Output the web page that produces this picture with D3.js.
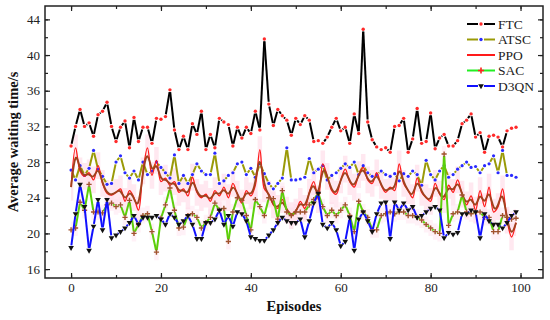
<!DOCTYPE html>
<html>
<head>
<meta charset="utf-8">
<script src="https://cdn.jsdelivr.net/npm/d3@7"></script>
<style>
  html, body { margin: 0; padding: 0; background: #fff; }
  svg { display: block; }
  text { font-family: "Liberation Serif", "Times New Roman", serif; }
</style>
</head>
<body>
<svg id="chart" width="550" height="320"></svg>
<script>
// ---------------- DATA ----------------
const episodes = d3.range(0, 100);

const FTC = [29.8, 32.0, 33.9, 32.0, 32.4, 30.9, 33.3, 33.7, 34.7, 32.0,
  30.3, 31.9, 32.6, 29.6, 33.0, 30.3, 31.9, 31.9, 30.1, 32.9,
  32.8, 33.1, 36.1, 31.6, 29.4, 30.9, 29.4, 32.3, 31.1, 33.7,
  29.4, 31.1, 29.6, 32.9, 32.5, 32.2, 29.8, 31.9, 30.7, 31.9,
  31.2, 33.7, 31.6, 41.8, 34.5, 32.1, 33.9, 33.2, 32.7, 31.0,
  32.9, 32.2, 33.2, 32.7, 30.3, 30.4, 30.1, 30.8, 31.9, 32.9,
  31.5, 31.9, 30.1, 33.4, 31.2, 42.9, 32.5, 30.5, 29.7, 29.4,
  29.6, 29.1, 32.0, 32.1, 32.9, 29.1, 30.6, 34.0, 30.1, 30.3,
  33.5, 29.5, 30.7, 31.1, 29.8, 29.8, 30.4, 32.3, 32.7, 33.4,
  30.8, 31.3, 29.1, 30.9, 31.0, 30.8, 29.7, 31.5, 31.8, 31.9];

const ATSC = [27.1, 26.0, 27.6, 26.5, 27.3, 29.3, 27.2, 26.4, 25.5, 25.6,
  28.0, 28.7, 26.8, 26.2, 27.0, 26.0, 28.0, 26.6, 27.0, 28.0,
  27.4, 26.8, 26.2, 28.8, 25.6, 26.5, 25.6, 26.6, 27.8, 27.0,
  26.6, 26.6, 29.0, 25.6, 25.9, 26.5, 26.8, 27.8, 28.0, 26.6,
  27.3, 26.3, 27.8, 26.7, 25.6, 25.0, 25.6, 26.2, 29.6, 26.0,
  26.0, 26.1, 26.3, 28.4, 26.8, 27.2, 27.6, 26.0, 26.5, 26.8,
  27.3, 27.8, 27.4, 28.0, 26.6, 27.6, 26.8, 26.4, 26.6, 27.0,
  26.6, 26.4, 26.7, 25.9, 26.7, 26.4, 27.0, 26.6, 25.4, 28.2,
  26.6, 26.0, 27.0, 27.6, 26.3, 26.6, 27.2, 27.6, 28.0, 27.4,
  27.5, 26.8, 27.6, 27.8, 28.7, 26.8, 29.3, 26.5, 26.5, 26.3];

const PPO = [25.2, 29.6, 27.0, 26.4, 26.8, 26.0, 27.6, 25.6, 24.5, 24.3,
  24.6, 25.0, 23.6, 24.8, 24.0, 22.6, 27.0, 29.6, 26.5, 28.2,
  25.8, 26.2, 25.4, 25.8, 24.6, 25.0, 24.2, 26.3, 24.6, 24.0,
  24.4, 23.6, 24.8, 24.2, 25.2, 24.0, 25.6, 24.4, 23.4, 24.8,
  24.2, 25.4, 29.4, 25.0, 24.4, 23.2, 22.8, 23.8, 22.6, 22.0,
  22.4, 23.6, 22.8, 24.6, 25.8, 23.8, 27.8, 26.4, 24.8, 24.4,
  26.0, 27.2, 25.8, 25.2, 26.6, 27.4, 26.0, 25.6, 26.8, 25.4,
  24.6, 25.2, 24.8, 27.8, 25.6, 24.8, 24.0, 26.2, 24.6, 24.0,
  23.6, 25.6, 24.4, 23.8, 25.4, 24.6, 26.0, 24.4, 23.2, 24.2,
  22.6, 24.8, 23.0, 25.2, 22.4, 23.0, 25.0, 21.5, 19.6, 21.2];

const SAC = [20.4, 20.6, 23.5, 22.6, 25.5, 22.4, 22.4, 22.3, 23.2, 23.4,
  23.0, 23.2, 21.8, 23.7, 20.0, 21.0, 22.0, 22.2, 20.2, 17.9,
  21.7, 23.2, 25.1, 22.6, 20.6, 20.7, 22.0, 22.2, 21.8, 20.6,
  21.2, 21.8, 23.4, 22.6, 22.8, 19.1, 22.4, 24.0, 23.7, 22.0,
  20.4, 23.8, 23.0, 22.0, 24.0, 23.9, 21.6, 24.8, 22.4, 22.0,
  22.4, 22.4, 22.4, 23.2, 23.8, 24.5, 23.0, 22.0, 22.6, 22.0,
  22.6, 23.2, 22.0, 20.2, 23.6, 22.4, 21.8, 20.4, 20.4, 22.0,
  22.2, 22.4, 22.2, 22.4, 22.4, 22.0, 22.0, 21.8, 21.5, 21.0,
  20.6, 20.2, 20.0, 28.9, 20.9, 22.2, 22.4, 24.3, 22.4, 22.2,
  22.4, 22.4, 21.8, 21.8, 20.2, 20.2, 22.0, 21.8, 21.6, 21.7];

const D3QN = [18.4, 22.2, 25.5, 23.0, 18.1, 20.8, 23.8, 20.4, 23.8, 19.5,
  19.8, 20.2, 20.6, 21.2, 22.0, 21.0, 21.8, 21.8, 21.8, 22.0,
  21.6, 21.0, 22.2, 21.8, 21.0, 21.4, 22.0, 21.0, 19.4, 19.4,
  21.2, 21.2, 21.6, 22.6, 21.0, 22.0, 20.8, 22.4, 22.2, 21.4,
  19.6, 19.4, 19.2, 19.2, 19.8, 20.4, 21.2, 21.8, 21.4, 21.2,
  21.2, 21.6, 19.6, 21.4, 23.4, 24.5, 21.0, 20.6, 21.2, 20.4,
  18.6, 19.1, 21.8, 18.1, 21.6, 22.4, 21.4, 20.2, 22.2, 23.4,
  23.5, 19.4, 23.5, 22.6, 23.4, 22.6, 23.0, 21.8, 22.0, 22.4,
  22.8, 23.0, 22.6, 19.5, 20.1, 19.9, 20.1, 22.2, 22.2, 22.6,
  22.4, 19.5, 22.2, 21.4, 21.0, 21.0, 20.6, 21.2, 22.0, 22.4];

const yTicks = [16, 20, 24, 28, 32, 36, 40, 44];
const xTicks = [0, 20, 40, 60, 80, 100];
const seriesNames = ["FTC", "ATSC", "PPO", "SAC", "D3QN"];

// ---------------- LAYOUT ----------------
const svg = d3.select("#chart");
const L = 45, R = 543, T = 6, B = 278;
const x = d3.scaleLinear().domain([-5.8, 105]).range([L, R]);
const y = d3.scaleLinear().domain([15, 45.5]).range([B, T]);

const plot = svg.append("g");
const clipId = "clip";
svg.append("defs").append("clipPath").attr("id", clipId)
  .append("rect").attr("x", L).attr("y", T).attr("width", R - L).attr("height", B - T);
const g = plot.append("g").attr("clip-path", `url(#${clipId})`);

// bands (style only, around series)
const bandPPO = 1.5, bandSAC = 0.9;
g.append("path")
  .datum(episodes)
  .attr("d", d3.area().curve(d3.curveStep)
    .x(i => x(i)).y0(i => y(PPO[i] - bandPPO)).y1(i => y(PPO[i] + bandPPO)))
  .attr("fill", "#ffd2e2").attr("opacity", 0.5);
g.append("path")
  .datum(episodes)
  .attr("d", d3.area().curve(d3.curveStep)
    .x(i => x(i)).y0(i => y(SAC[i] - bandSAC)).y1(i => y(SAC[i] + bandSAC)))
  .attr("fill", "#ffd6e8").attr("opacity", 0.35);

// gapped line: segments shortened near each marker
function gapLine(vals, color, width, gap) {
  const grp = g.append("g");
  for (let i = 0; i < vals.length - 1; i++) {
    const x1 = x(episodes[i]), y1 = y(vals[i]);
    const x2 = x(episodes[i + 1]), y2 = y(vals[i + 1]);
    const dx = x2 - x1, dy = y2 - y1, len = Math.hypot(dx, dy);
    if (len <= 2 * gap + 0.6) continue;
    const ux = dx / len, uy = dy / len;
    grp.append("line")
      .attr("x1", x1 + ux * gap).attr("y1", y1 + uy * gap)
      .attr("x2", x2 - ux * gap).attr("y2", y2 - uy * gap)
      .attr("stroke", color).attr("stroke-width", width).attr("stroke-linecap", "butt");
  }
  return grp;
}
function dots(vals, color, r) {
  g.append("g").selectAll("circle").data(episodes).join("circle")
    .attr("cx", i => x(i)).attr("cy", i => y(vals[i])).attr("r", r).attr("fill", color);
}
const triDown = d3.symbol().type(d3.symbolTriangle).size(14);
const plus = (cx, cy, s) => `M${cx - s},${cy}H${cx + s}M${cx},${cy - s}V${cy + s}`;

// ATSC
gapLine(ATSC, "#9a9a08", 2, 2.4);
dots(ATSC, "#2a2aff", 1.6);

// PPO
g.append("path").datum(episodes)
  .attr("d", d3.line().curve(d3.curveCatmullRom).x(i => x(i)).y(i => y(PPO[i])))
  .attr("fill", "none").attr("stroke", "#ff1a1a").attr("stroke-width", 1.3);
g.append("path").datum(episodes)
  .attr("d", d3.line().curve(d3.curveBasis).x(i => x(i)).y(i => y(PPO[i])))
  .attr("fill", "none").attr("stroke", "#a0421e").attr("stroke-width", 1.9);

// SAC
gapLine(SAC, "#5ccf0a", 2, 2.0);
g.append("g").selectAll("path").data(episodes).join("path")
  .attr("d", i => plus(x(i), y(SAC[i]), 2.6))
  .attr("stroke", "#a0522d").attr("stroke-width", 1.4).attr("fill", "none");

// D3QN
gapLine(D3QN, "#1010ff", 2, 2.4);
g.append("g").selectAll("path").data(episodes).join("path")
  .attr("d", triDown)
  .attr("transform", i => `translate(${x(i)},${y(D3QN[i])}) rotate(180)`)
  .attr("fill", "#111");

// FTC
gapLine(FTC, "#000", 2, 2.4);
dots(FTC, "#ff2a2a", 1.7);

// ---------------- AXES ----------------
const axisFont = g2 => g2.selectAll("text").attr("font-family", "Liberation Serif, serif")
  .attr("font-size", 13).attr("fill", "#222");
const clean = g2 => g2.select(".domain").remove();

const yMinor = d3.range(16, 45, 2);
const xMinor = d3.range(0, 101, 10);

svg.append("g").attr("transform", `translate(${L},0)`)
  .call(d3.axisLeft(y).tickValues(yTicks).tickSizeInner(-5).tickSizeOuter(0).tickPadding(5))
  .call(clean).call(axisFont);
svg.append("g").attr("transform", `translate(${L},0)`)
  .call(d3.axisLeft(y).tickValues(yMinor).tickSizeInner(-3).tickSizeOuter(0).tickFormat(""))
  .call(clean);
svg.append("g").attr("transform", `translate(${R},0)`)
  .call(d3.axisRight(y).tickValues(yTicks).tickSizeInner(-5).tickSizeOuter(0).tickFormat(""))
  .call(clean);
svg.append("g").attr("transform", `translate(${R},0)`)
  .call(d3.axisRight(y).tickValues(yMinor).tickSizeInner(-3).tickSizeOuter(0).tickFormat(""))
  .call(clean);

svg.append("g").attr("transform", `translate(0,${B})`)
  .call(d3.axisBottom(x).tickValues(xTicks).tickSizeInner(-5).tickSizeOuter(0).tickPadding(5))
  .call(clean).call(axisFont);
svg.append("g").attr("transform", `translate(0,${B})`)
  .call(d3.axisBottom(x).tickValues(xMinor).tickSizeInner(-3).tickSizeOuter(0).tickFormat(""))
  .call(clean);
svg.append("g").attr("transform", `translate(0,${T})`)
  .call(d3.axisTop(x).tickValues(xTicks).tickSizeInner(-5).tickSizeOuter(0).tickFormat(""))
  .call(clean);
svg.append("g").attr("transform", `translate(0,${T})`)
  .call(d3.axisTop(x).tickValues(xMinor).tickSizeInner(-3).tickSizeOuter(0).tickFormat(""))
  .call(clean);
svg.selectAll(".tick line").attr("stroke", "#222").attr("stroke-width", 1.2);

svg.append("rect").attr("x", L).attr("y", T).attr("width", R - L).attr("height", B - T)
  .attr("fill", "none").attr("stroke", "#222").attr("stroke-width", 1.5);

// titles
svg.append("text").attr("x", (L + R) / 2).attr("y", 311).attr("text-anchor", "middle")
  .attr("font-size", 14.5).attr("font-weight", "bold").attr("fill", "#111").text("Episodes");
svg.append("text").attr("transform", `translate(18,${(T + B) / 2}) rotate(-90)`)
  .attr("text-anchor", "middle").attr("font-size", 14.5).attr("font-weight", "bold")
  .attr("fill", "#111").text("Average waiting time/s");

// ---------------- LEGEND ----------------
const legend = svg.append("g");
const legRows = [24, 39.5, 55, 70.5, 86];
const lx0 = 467, lx1 = 495, lm = 481;
const legStyle = {
  FTC:  { line: "#000", mark: "dot", mcol: "#ff2a2a", gap: true },
  ATSC: { line: "#9a9a08", mark: "dot", mcol: "#2a2aff", gap: true },
  PPO:  { line: "#ff1a1a", mark: null, gap: false },
  SAC:  { line: "#22ee22", mark: "plus", mcol: "#ff2020", gap: false },
  D3QN: { line: "#1010ff", mark: "tri", mcol: "#111", gap: true }
};
seriesNames.forEach((name, k) => {
  const yy = legRows[k], st = legStyle[name];
  if (st.gap) {
    legend.append("line").attr("x1", lx0).attr("x2", lm - 3).attr("y1", yy).attr("y2", yy)
      .attr("stroke", st.line).attr("stroke-width", 2);
    legend.append("line").attr("x1", lm + 3).attr("x2", lx1).attr("y1", yy).attr("y2", yy)
      .attr("stroke", st.line).attr("stroke-width", 2);
  } else {
    legend.append("line").attr("x1", lx0).attr("x2", lx1).attr("y1", yy).attr("y2", yy)
      .attr("stroke", st.line).attr("stroke-width", 2);
  }
  if (st.mark === "dot") legend.append("circle").attr("cx", lm).attr("cy", yy).attr("r", 1.7).attr("fill", st.mcol);
  if (st.mark === "plus") legend.append("path").attr("d", plus(lm, yy, 3)).attr("stroke", st.mcol).attr("stroke-width", 1.6);
  if (st.mark === "tri") legend.append("path").attr("d", triDown)
    .attr("transform", `translate(${lm},${yy}) rotate(180)`).attr("fill", st.mcol);
  legend.append("text").attr("x", 498).attr("y", yy).attr("dy", "0.35em")
    .attr("font-size", 13.5).attr("fill", "#222").text(name);
});
</script>
</body>
</html>
